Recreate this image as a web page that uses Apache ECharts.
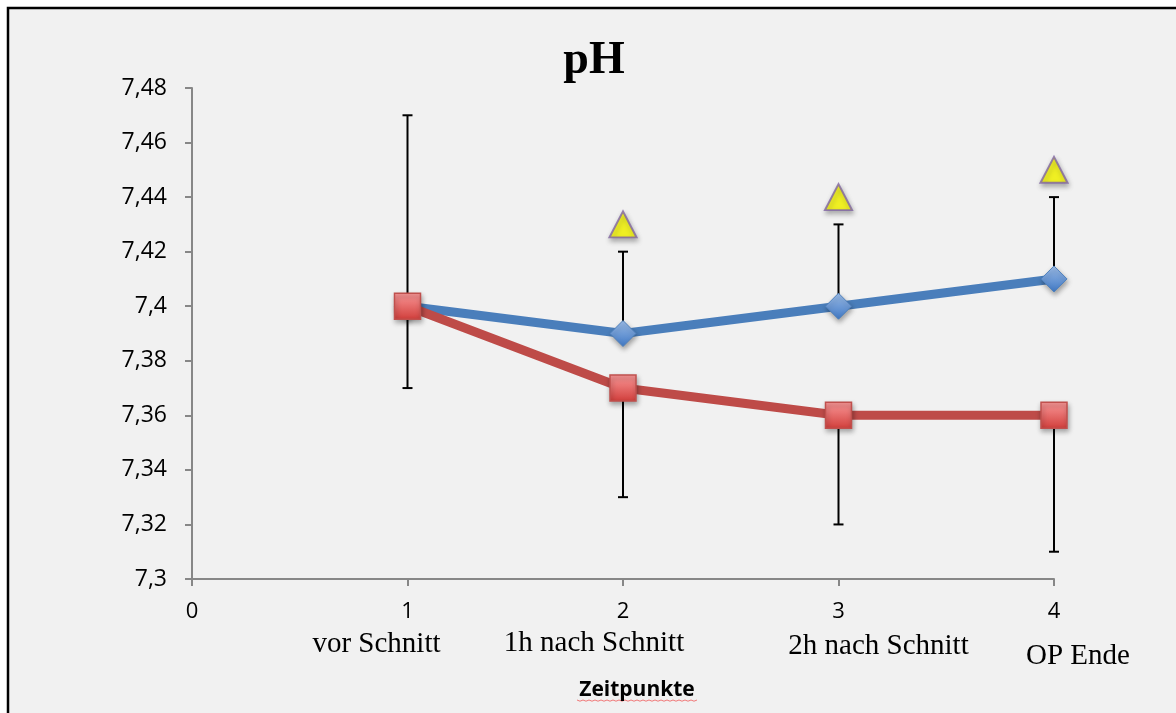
<!DOCTYPE html>
<html>
<head>
<meta charset="utf-8">
<style>
  html, body { margin: 0; padding: 0; background: #ffffff; }
  #chart { width: 1176px; height: 713px; }
</style>
<script src="https://cdn.jsdelivr.net/npm/echarts@6/dist/echarts.min.js"></script>
</head>
<body>
<div id="chart"></div>
<script>
// Measurement times (x positions) and their names
const timePoints = [1, 2, 3, 4];
const timeNames = ['vor Schnitt', '1h nach Schnitt', '2h nach Schnitt', 'OP Ende'];

// Mean pH per group
const bluePH = [7.40, 7.39, 7.40, 7.41];
const redPH = [7.40, 7.37, 7.36, 7.36];

// Error bar ends: upper bound for the blue group, lower bound for the red group
const blueUpper = [7.47, 7.42, 7.43, 7.44];
const redLower = [7.37, 7.33, 7.32, 7.31];

// Significance markers
const markX = [2, 3, 4];
const markY = [7.43, 7.44, 7.45];

// Axis ticks
const yTicks = [7.30, 7.32, 7.34, 7.36, 7.38, 7.40, 7.42, 7.44, 7.46, 7.48];
const xTicks = [0, 1, 2, 3, 4];

const shadow = {
  shadowBlur: 5,
  shadowOffsetX: 1,
  shadowOffsetY: 3,
  shadowColor: 'rgba(0,0,0,0.35)'
};

function errorBarData(mean, bound) {
  return timePoints.map((x, i) => [x, mean[i], bound[i]]);
}

function renderErrorBar(params, api) {
  const from = api.coord([api.value(0), api.value(1)]);
  const to = api.coord([api.value(0), api.value(2)]);
  const half = 5;
  const style = { stroke: '#000000', lineWidth: 2 };
  return {
    type: 'group',
    children: [
      { type: 'line', shape: { x1: from[0], y1: from[1], x2: to[0], y2: to[1] }, style: style },
      { type: 'line', shape: { x1: to[0] - half, y1: to[1], x2: to[0] + half, y2: to[1] }, style: style }
    ]
  };
}

const chart = echarts.init(document.getElementById('chart'), null, { renderer: 'canvas' });

const option = {
  animation: false,
  backgroundColor: 'transparent',
  title: {
    text: 'pH',
    left: 589,
    top: 33,
    textAlign: 'center',
    textStyle: {
      fontFamily: 'Liberation Serif',
      fontWeight: 'bold',
      fontSize: 46,
      color: '#000000'
    }
  },
  grid: { left: 192, right: 122, top: 88, bottom: 134 },
  xAxis: {
    type: 'value',
    min: xTicks[0],
    max: xTicks[xTicks.length - 1],
    interval: 1,
    splitLine: { show: false },
    axisLine: { lineStyle: { color: '#878787', width: 2 } },
    axisTick: { show: true, length: 7, lineStyle: { color: '#878787', width: 2 } },
    axisLabel: {
      margin: 22,
      fontFamily: 'Open Sans',
      fontSize: 22,
      color: '#000000'
    }
  },
  yAxis: {
    type: 'value',
    min: yTicks[0],
    max: yTicks[yTicks.length - 1],
    interval: 0.02,
    splitLine: { show: false },
    axisLine: { show: true, lineStyle: { color: '#878787', width: 2 } },
    axisTick: { show: true, length: 7, lineStyle: { color: '#878787', width: 2 } },
    axisLabel: {
      margin: 25,
      fontFamily: 'Open Sans',
      fontSize: 23,
      color: '#000000',
      formatter: v => String(+v.toFixed(2)).replace('.', ',')
    }
  },
  series: [
    {
      type: 'custom',
      name: 'errBlue',
      renderItem: renderErrorBar,
      data: errorBarData(bluePH, blueUpper),
      z: 1,
      silent: true
    },
    {
      type: 'custom',
      name: 'errRed',
      renderItem: renderErrorBar,
      data: errorBarData(redPH, redLower),
      z: 1,
      silent: true
    },
    {
      type: 'line',
      name: 'blau',
      data: timePoints.map((x, i) => [x, bluePH[i]]),
      z: 3,
      symbol: 'diamond',
      symbolSize: 26,
      lineStyle: { color: '#4a7ebb', width: 9 },
      itemStyle: Object.assign({
        color: new echarts.graphic.LinearGradient(0, 0, 0, 1, [
          { offset: 0, color: '#9dbde8' },
          { offset: 1, color: '#3f78c4' }
        ]),
        borderColor: '#4f81bd',
        borderWidth: 1
      }, shadow)
    },
    {
      type: 'line',
      name: 'rot',
      data: timePoints.map((x, i) => [x, redPH[i]]),
      z: 4,
      symbol: 'rect',
      symbolSize: 26,
      lineStyle: { color: '#be4b48', width: 9 },
      itemStyle: Object.assign({
        color: new echarts.graphic.LinearGradient(0, 0, 0, 1, [
          { offset: 0, color: '#fb9999' },
          { offset: 1, color: '#d03d3a' }
        ]),
        borderColor: '#c0504d',
        borderWidth: 1.5
      }, shadow)
    },
    {
      type: 'scatter',
      name: 'sig',
      data: markX.map((x, i) => [x, markY[i]]),
      z: 5,
      symbol: 'triangle',
      symbolSize: [27, 26],
      itemStyle: Object.assign({
        color: '#ffff00',
        borderColor: '#8064a2',
        borderWidth: 2
      }, shadow)
    }
  ]
};

chart.setOption(option);

// Time point names under the x axis, anchored to the axis positions
const nameOffsets = [[-31, 644], [-29, 643], [40, 646], [24, 656]];
const labelElements = timePoints.map((x, i) => {
  const px = chart.convertToPixel({ gridIndex: 0 }, [x, yTicks[0]])[0];
  return {
    type: 'text',
    x: px + nameOffsets[i][0],
    y: nameOffsets[i][1],
    z: 10,
    style: {
      text: timeNames[i],
      fontFamily: 'Liberation Serif',
      fontSize: 29,
      fill: '#000000',
      align: 'center',
      verticalAlign: 'middle'
    }
  };
});

// Wavy underline below the axis title
const wave = [];
for (let x = 577; x <= 697; x += 3) {
  wave.push([x, 700 + (((x - 577) / 3) % 2 === 0 ? 0 : 1.2)]);
}

chart.setOption({
  graphic: [
    {
      type: 'rect',
      z: -10,
      silent: true,
      shape: { x: 8, y: 8, width: 1200, height: 800 },
      style: { fill: '#f1f1f1', stroke: '#000000', lineWidth: 2.5 }
    },
    ...labelElements,
    {
      type: 'text',
      x: 637,
      y: 690,
      z: 10,
      style: {
        text: 'Zeitpunkte',
        fontFamily: 'Open Sans',
        fontWeight: 'bold',
        fontSize: 21,
        fill: '#000000',
        align: 'center',
        verticalAlign: 'middle'
      }
    },
    {
      type: 'polyline',
      z: 9,
      silent: true,
      shape: { points: wave },
      style: { stroke: '#f07878', lineWidth: 1, fill: null }
    }
  ]
});
</script>
</body>
</html>
